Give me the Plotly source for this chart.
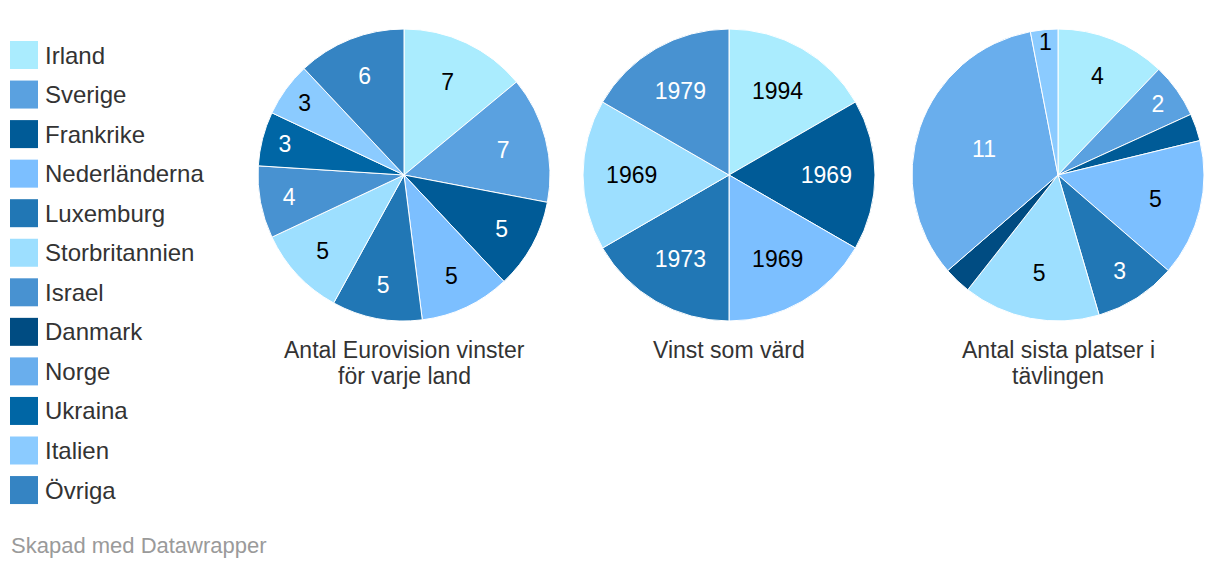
import plotly.graph_objects as go

# ---------------- data ----------------
legend_labels = ["Irland", "Sverige", "Frankrike", "Nederländerna", "Luxemburg",
                 "Storbritannien", "Israel", "Danmark", "Norge", "Ukraina",
                 "Italien", "Övriga"]
legend_colors = ["#aaecfe", "#5aa1e0", "#005b97", "#7cbfff", "#2177b5",
                 "#9ddfff", "#4892d1", "#004c82", "#69aeed", "#0066a5",
                 "#8bcbff", "#3584c3"]
dark = {"Sverige", "Frankrike", "Luxemburg", "Israel", "Danmark", "Norge", "Ukraina", "Övriga"}

wins_labels = ["Irland", "Sverige", "Frankrike", "Nederländerna", "Luxemburg",
               "Storbritannien", "Israel", "Ukraina", "Italien", "Övriga"]
wins_values = [7, 7, 5, 5, 5, 5, 4, 3, 3, 6]
wins_text = ["7", "7", "5", "5", "5", "5", "4", "3", "3", "6"]

host_labels = ["Irland", "Frankrike", "Nederländerna", "Luxemburg", "Storbritannien", "Israel"]
host_values = [1, 1, 1, 1, 1, 1]
host_text = ["1994", "1969", "1969", "1973", "1969", "1979"]

last_labels = ["Irland", "Sverige", "Frankrike", "Nederländerna", "Luxemburg",
               "Storbritannien", "Danmark", "Norge", "Italien"]
last_values = [4, 2, 1, 5, 3, 5, 1, 11, 1]
last_text = ["4", "2", "", "5", "3", "5", "", "11", "1"]

titles = [["Antal Eurovision vinster", "för varje land"], ["Vinst som värd"],
          ["Antal sista platser i", "tävlingen"]]

# ---------------- figure ----------------
W, H = 1220, 568
OFF = 8  # page body margin
FONT = "Liberation Sans, Arial, sans-serif"
color_of = dict(zip(legend_labels, legend_colors))


def px_x(x):
    return (x - OFF) / W


def px_y(y):
    return 1 - (y - OFF) / H


fig = go.Figure()

pies = [(wins_labels, wins_values, wins_text, 258, 550),
        (host_labels, host_values, host_text, 583, 875),
        (last_labels, last_values, last_text, 912, 1204)]
centers = []
for labels, values, text, x0, x1 in pies:
    centers.append((x0 + x1) / 2)
    fig.add_trace(go.Pie(
        labels=labels, values=values, text=text,
        textinfo="text", textposition="inside",
        insidetextorientation="horizontal",
        sort=False, direction="clockwise", rotation=0,
        marker=dict(colors=[color_of[l] for l in labels],
                    line=dict(color="white", width=1)),
        insidetextfont=dict(family=FONT, size=23,
                            color=["white" if l in dark else "black" for l in labels]),
        hoverinfo="label+value",
        showlegend=False,
        domain=dict(x=[px_x(x0), px_x(x1)], y=[px_y(321), px_y(29)]),
    ))

# titles below pies
for cx, lines in zip(centers, titles):
    for j, line in enumerate(lines):
        fig.add_annotation(text=line, x=px_x(cx), y=px_y(350 + 26 * j),
                           xref="paper", yref="paper",
                           xanchor="center", yanchor="middle", showarrow=False,
                           font=dict(family=FONT, size=23, color="#333333"))

# manual legend
for i, (lab, col) in enumerate(zip(legend_labels, legend_colors)):
    cy = 55 + i * 39.55
    fig.add_shape(type="rect", xref="paper", yref="paper",
                  x0=px_x(10), x1=px_x(38), y0=px_y(cy - 14), y1=px_y(cy + 14),
                  fillcolor=col, line=dict(width=0))
    fig.add_annotation(text=lab, x=px_x(43), y=px_y(cy), xref="paper", yref="paper",
                       xanchor="left", yanchor="middle", showarrow=False,
                       font=dict(family=FONT, size=24, color="#333333"))

fig.add_annotation(text="Skapad med Datawrapper", x=px_x(9), y=px_y(545),
                   xref="paper", yref="paper", xanchor="left", yanchor="middle",
                   showarrow=False, font=dict(family=FONT, size=22, color="#9a9a9a"))

fig.update_layout(width=W, height=H, margin=dict(l=0, r=0, t=0, b=0),
                  paper_bgcolor="white", plot_bgcolor="white",
                  uniformtext=dict(minsize=23, mode="show"))

fig.write_html("out.html")
